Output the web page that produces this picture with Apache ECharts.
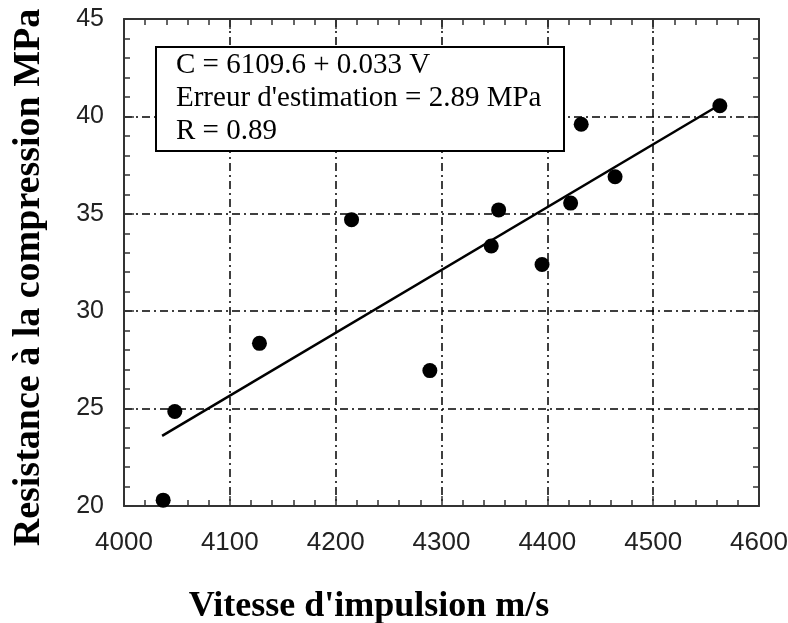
<!DOCTYPE html>
<html>
<head>
<meta charset="utf-8">
<script src="https://cdn.jsdelivr.net/npm/echarts@6/dist/echarts.min.js"></script>
<style>
  html, body { margin: 0; padding: 0; background: #fff; }
  #main { width: 788px; height: 623px; }
</style>
</head>
<body>
<div id="main"></div>
<script>
// measured points: pulse velocity (m/s) vs compressive strength (MPa)
const vitesse = [4037, 4048, 4128, 4215, 4289, 4347, 4354, 4395, 4422, 4432, 4464, 4563];
const resistance = [20.3, 24.85, 28.35, 34.7, 26.95, 33.35, 35.2, 32.4, 35.55, 39.6, 36.9, 40.55];
// regression line end points
const fitX = [4036, 4563];
const fitY = [23.6, 40.6];
const boxLines = ['C = 6109.6 + 0.033 V', "Erreur d'estimation = 2.89 MPa", 'R = 0.89'];

const gridDash = [8, 4, 2, 4];
const axisCol = '#333';

const hiddenAxis = (pos) => ({
  type: 'value', position: pos,
  axisLine: { show: true, lineStyle: { color: axisCol, width: 2 } },
  axisTick: { show: true, inside: true, length: 10, lineStyle: { color: axisCol, width: 1.5 } },
  minorTick: { show: true, splitNumber: 5, length: 6, lineStyle: { color: axisCol, width: 1.5 } },
  axisLabel: { show: false },
  splitLine: { show: false }
});

const chart = echarts.init(document.getElementById('main'));

chart.setOption({
  backgroundColor: '#fff',
  animation: false,
  grid: { left: 124, right: 29, top: 19, bottom: 117, outerBoundsMode: 'none' },
  xAxis: [
    {
      type: 'value', min: 4000, max: 4600, interval: 100,
      name: "Vitesse d'impulsion m/s", nameLocation: 'middle', nameGap: 83,
      nameTextStyle: { fontFamily: 'Liberation Serif', fontWeight: 'bold', fontSize: 36, color: '#000', padding: [0, 145, 0, 0] },
      axisLine: { lineStyle: { color: axisCol, width: 2 } },
      axisTick: { inside: true, length: 10, lineStyle: { color: axisCol, width: 1.5 } },
      minorTick: { show: true, splitNumber: 5, length: 6, lineStyle: { color: axisCol, width: 1.5 } },
      axisLabel: { fontFamily: 'Liberation Sans', fontSize: 26, color: '#222', margin: 24, formatter: v => String(v) },
      splitLine: { show: true, lineStyle: { color: '#000', width: 1.5, type: gridDash } }
    },
    { ...hiddenAxis('top'), min: 4000, max: 4600, interval: 100 }
  ],
  yAxis: [
    {
      type: 'value', min: 20, max: 45, interval: 5,
      name: 'Resistance à la compression MPa', nameLocation: 'middle', nameGap: 76,
      nameTextStyle: { fontFamily: 'Liberation Serif', fontWeight: 'bold', fontSize: 38, color: '#000', padding: [0, 30, 0, 0] },
      axisLine: { show: true, lineStyle: { color: axisCol, width: 2 } },
      axisTick: { show: true, inside: true, length: 10, lineStyle: { color: axisCol, width: 1.5 } },
      minorTick: { show: true, splitNumber: 5, length: 6, lineStyle: { color: axisCol, width: 1.5 } },
      axisLabel: { fontFamily: 'Liberation Sans', fontSize: 25, color: '#222', margin: 20 },
      splitLine: { show: true, lineStyle: { color: '#000', width: 1.5, type: gridDash } }
    },
    { ...hiddenAxis('right'), min: 20, max: 45, interval: 5 }
  ],
  series: [
    {
      type: 'line', data: fitX.map((x, i) => [x, fitY[i]]),
      showSymbol: false, lineStyle: { color: '#000', width: 2.5 }, z: 3
    },
    {
      type: 'scatter', data: vitesse.map((x, i) => [x, resistance[i]]),
      symbolSize: 15, itemStyle: { color: '#000', opacity: 1 }, z: 4
    }
  ],
  graphic: [
    {
      type: 'group', left: 155, top: 46, z: 100,
      children: [
        { type: 'rect', z: 100, shape: { x: 0, y: 0, width: 408, height: 104 },
          style: { fill: '#fff', stroke: '#000', lineWidth: 2 } },
        ...boxLines.map((t, i) => ({
          type: 'text', z: 101, x: 20, y: 18 + i * 33,
          style: { text: t, fontFamily: 'Liberation Serif', fontSize: 29, fill: '#000', verticalAlign: 'middle' }
        }))
      ]
    }
  ]
});
</script>
</body>
</html>
